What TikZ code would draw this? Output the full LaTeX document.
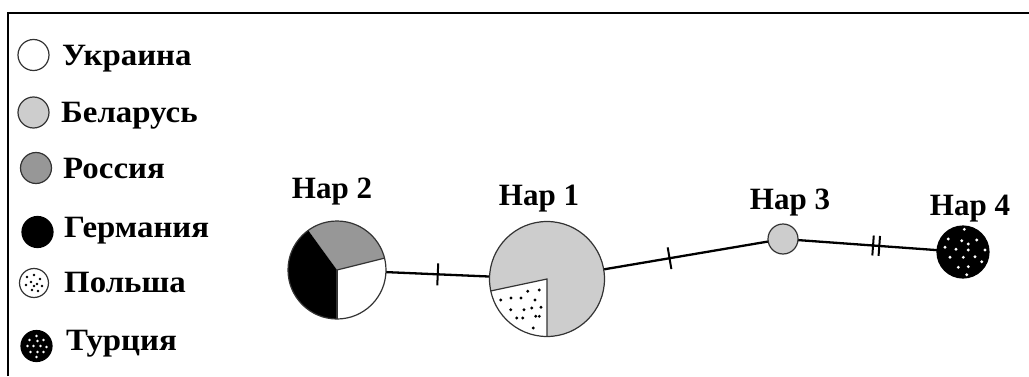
\documentclass[tikz,border=0pt]{standalone}
\usepackage{fontspec}
\setmainfont{Liberation Serif}
\newfontfamily\legfont[FakeStretch=1.06]{Liberation Serif}
\usetikzlibrary{decorations.markings,calc}
\definecolor{bel}{HTML}{CDCDCD}
\definecolor{rus}{HTML}{979797}
\definecolor{edge}{HTML}{333333}
\tikzset{
  txt/.style={font=\fontsize{31}{34}\selectfont\bfseries, inner sep=0pt},
  legtxt/.style={font=\legfont\fontsize{31}{34}\selectfont\bfseries, inner sep=0pt, anchor=base west},
  hapnode/.style={circle, inner sep=0pt, minimum size=#1},
  outline/.style={draw=edge, line width=1.2pt},
  legc/.style={circle, inner sep=0pt, minimum size=31pt, draw=edge, line width=1.2pt},
  conn/.style={line width=2.3pt, black},
  tick1/.style={postaction={decorate}, decoration={markings,
     mark=at position #1 with {\draw[line width=2pt] (0,-11pt) -- (0,11pt);}}},
}
\begin{document}
\begin{tikzpicture}[x=1pt,y=1pt]
\useasboundingbox (0,0) rectangle (1029,376);
% frame
\draw[line width=2.4pt, black] (8,0) -- (8,363) -- (1029,363);

% legend
\node[legc, fill=white] (lu) at (33.5,321) {};
\node[legc, fill=bel] (lb) at (33.5,263.5) {};
\node[legc, fill=rus] (lr) at (36,208) {};
\node[legc, fill=black, draw=black] (lg) at (37.5,144) {};
\node[legc, fill=white, minimum size=29pt] (lp) at (34,93) {};
\node[legc, fill=black, draw=black] (lt) at (36.5,30) {};
\foreach \x/\y in {-7/6,0/8,6/4,-3/1,3/-1,8/-3,-8/-2,-2/-7,4/-8,0/-3}
  \fill[black] ([shift={(\x,\y)}]lp.center) circle (1.3pt);
\foreach \x/\y in {0/10,-7/6,1/5,7/6,-9/0,-3/0,4/0,10/-1,-6/-6,1/-6,7/-6,0/-11}
  \fill[white] ([shift={(\x,\y)}]lt.center) circle (1.3pt);

\node[legtxt] (tu) at (62,311) {Украина};
\node[legtxt] (tb) at (61,254) {Беларусь};
\node[legtxt] (tr) at (63,198) {Россия};
\node[legtxt] (tg) at (64,139) {Германия};
\node[legtxt] (tp) at (64,84) {Польша};
\node[legtxt] (tt) at (66,26) {Турция};

% haplotype nodes
\node[hapnode=98pt] (h2) at (337,106) {};
\node[hapnode=115pt] (h1) at (547,97) {};
\node[hapnode=30pt] (h3) at (783,137) {};
\node[hapnode=52pt] (h4) at (963,124) {};

% connectors
\draw[conn, tick1=0.5] (h2) -- (h1);
\draw[conn, tick1=0.4] (h1) -- (h3);
\draw[conn, postaction={decorate}, decoration={markings,
   mark=at position 0.54 with {\draw[line width=2pt] (0,-10pt) -- (0,10pt);},
   mark=at position 0.585 with {\draw[line width=2pt] (0,-10pt) -- (0,10pt);}}] (h3) -- (h4);

% Hap 2 pie
\fill[rus] (h2.center) -- ++(14:49) arc (14:126:49) -- cycle;
\fill[black] (h2.center) -- ++(126:49) arc (126:270:49) -- cycle;
\fill[white] (h2.center) -- ++(270:49) arc (270:374:49) -- cycle;
\draw[edge, line width=1.2pt] (h2.center) -- ++(14:49);
\draw[edge, line width=1.2pt] (h2.center) -- ++(270:49);
\draw[outline] (h2.center) circle (49);

% Hap 1 pie
\fill[bel] (h1.center) circle (57.5);
\fill[white] (h1.center) -- ++(192:57.5) arc (192:270:57.5) -- cycle;
\draw[edge, line width=1.2pt] ([shift={(192:57.5)}]h1.center) -- (h1.center) -- ++(270:57.5);
\foreach \x/\y in {-46.3/-21,-36/-19,-26/-19,-19.3/-12.3,-7.7/-11,-12/-21,-36.3/-30.7,-23/-30.7,-15.3/-29,-6/-28.3,-30.3/-39,-24.3/-39,-11.3/-37.3,-7.7/-37.3,-13.7/-49}
  \fill[black] ([shift={(\x,\y)}]h1.center) circle (1.6pt);
\draw[outline] (h1.center) circle (57.5);

% Hap 3
\fill[bel] (h3.center) circle (15);
\draw[outline] (h3.center) circle (15);

% Hap 4
\fill[black] (h4.center) circle (26);
\foreach \x/\y in {1.3/22.7,-14.7/13,-1.3/11.3,13.7/12,5.3/8,-18/4.7,-7/2.7,5.3/2,22/2,-13/-5.3,0.3/-5.3,12/-4.7,18.7/-9.7,-4.7/-15.3,5.3/-14.7,3.7/-22.7}
  \fill[white] ([shift={(\x,\y)}]h4.center) circle (1.6pt);
\draw[outline, draw=black] (h4.center) circle (26);

% labels
\node[txt, anchor=base] (l2) at (332,178) {Hap 2};
\node[txt, anchor=base] (l1) at (539,171) {Hap 1};
\node[txt, anchor=base] (l3) at (790,167) {Hap 3};
\node[txt, anchor=base] (l4) at (970,161) {Hap 4};
\end{tikzpicture}
\end{document}
